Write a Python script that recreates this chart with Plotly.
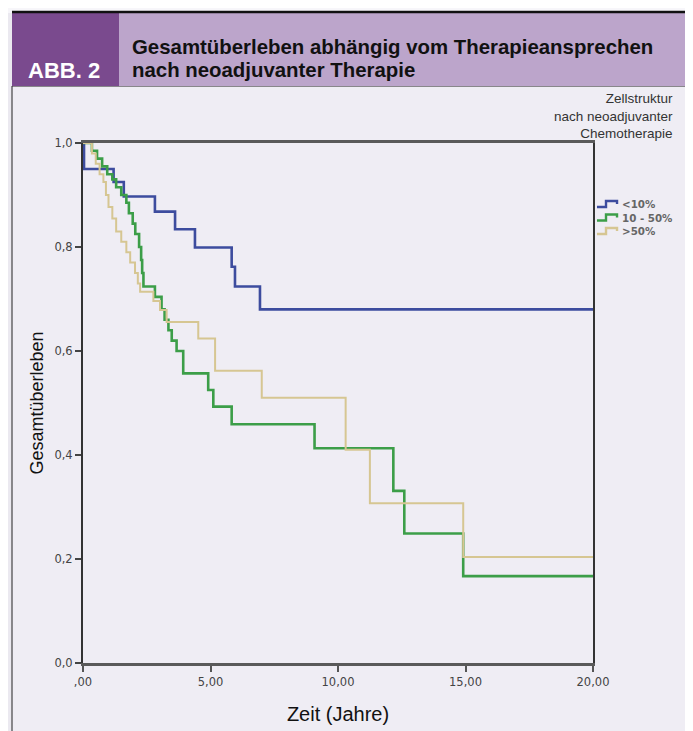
import plotly.graph_objects as go

# ---- data ----
blue_name = "<10%"
blue_times = [0.04, 1.2, 1.6, 2.82, 3.61, 4.39, 5.83, 5.96, 6.94]
blue_surv = [0.95, 0.925, 0.897, 0.868, 0.834, 0.799, 0.762, 0.724, 0.68]

green_name = "10 - 50%"
green_times = [0.35, 0.55, 0.75, 0.95, 1.15, 1.3, 1.5, 1.7, 1.8, 1.95, 2.05, 2.2,
               2.28, 2.32, 2.37, 2.82, 3.08, 3.2, 3.35, 3.48, 3.67, 3.93, 4.91,
               5.11, 5.83, 9.08, 12.17, 12.6, 14.91]
green_surv = [0.985, 0.97, 0.955, 0.94, 0.93, 0.915, 0.90, 0.885, 0.865, 0.845, 0.825,
              0.80, 0.775, 0.75, 0.724, 0.704, 0.68, 0.66, 0.64, 0.62, 0.60, 0.557,
              0.525, 0.493, 0.459, 0.413, 0.331, 0.249, 0.167]

tan_name = ">50%"
tan_times = [0.35, 0.5, 0.65, 0.8, 0.9, 1.0, 1.15, 1.3, 1.5, 1.7, 1.85, 2.04, 2.15,
             2.24, 2.76, 3.02, 3.28, 4.52, 5.18, 7.01, 10.3, 11.25, 14.91]
tan_surv = [0.98, 0.96, 0.94, 0.925, 0.90, 0.877, 0.855, 0.83, 0.81, 0.79, 0.77, 0.75,
            0.73, 0.714, 0.696, 0.679, 0.656, 0.624, 0.562, 0.51, 0.41, 0.307, 0.204]

x_end = 20
y_ticks = [0, 0.2, 0.4, 0.6, 0.8, 1.0]
y_tick_labels = ["0,0", "0,2", "0,4", "0,6", "0,8", "1,0"]
x_ticks = [0, 5, 10, 15, 20]
x_tick_labels = [",00", "5,00", "10,00", "15,00", "20,00"]

legend_title_lines = ["Zellstruktur", "nach neoadjuvanter", "Chemotherapie"]

# ---- layout geometry (page has an 8px body margin) ----
W, H = 685, 723
L, T = 75, 135
PW, PH = 510, 520
R, B = W - L - PW, H - T - PH
X0, Y0 = 83, 663  # plot origin in page pixels


def px(x):
    return (x - X0) / PW


def py(y):
    return (Y0 - y) / PH


def steps(times, surv):
    return [0] + list(times) + [x_end], [1.0] + list(surv) + [surv[-1]]


series = [
    (blue_name, blue_times, blue_surv, "#3d4c9e", 2.6),
    (green_name, green_times, green_surv, "#3c9e48", 2.6),
    (tan_name, tan_times, tan_surv, "#d6c692", 2.0),
]

fig = go.Figure()
for name, t, s, col, w in series:
    xs, ys = steps(t, s)
    fig.add_trace(go.Scatter(x=xs, y=ys, mode="lines", name=name,
                             line=dict(color=col, width=w, shape="hv"),
                             hoverinfo="skip", showlegend=False))

shapes = [
    dict(type="rect", xref="paper", yref="paper", x0=px(0), x1=px(12), y0=py(13), y1=py(740),
         fillcolor="#ebe9f0", line=dict(width=0), layer="below"),
    dict(type="rect", xref="paper", yref="paper", x0=px(12), x1=px(688), y0=py(86), y1=py(740),
         fillcolor="#efedf4", line=dict(color="#222", width=1), layer="below"),
    dict(type="rect", xref="paper", yref="paper", x0=px(12), x1=px(119), y0=py(13), y1=py(86),
         fillcolor="#7a4a8e", line=dict(width=0), layer="below"),
    dict(type="rect", xref="paper", yref="paper", x0=px(119), x1=px(693), y0=py(13), y1=py(86),
         fillcolor="#bca5cb", line=dict(width=0), layer="below"),
    dict(type="line", xref="paper", yref="paper", x0=px(12), x1=px(693), y0=py(12), y1=py(12),
         line=dict(color="#111", width=2.5)),
]

annotations = [
    dict(text="<b>ABB. 2</b>", xref="paper", yref="paper", x=px(26), y=py(70),
         xanchor="left", yanchor="middle", showarrow=False,
         font=dict(family="Liberation Sans", size=22, color="white")),
    dict(text="<b>Gesamtüberleben abhängig vom Therapieansprechen</b>",
         xref="paper", yref="paper", x=px(130), y=py(47), xanchor="left", yanchor="middle",
         showarrow=False, font=dict(family="Liberation Sans", size=20.4, color="#111")),
    dict(text="<b>nach neoadjuvanter Therapie</b>",
         xref="paper", yref="paper", x=px(130), y=py(70), xanchor="left", yanchor="middle",
         showarrow=False, font=dict(family="Liberation Sans", size=20.4, color="#111")),
    dict(text="<br>".join(legend_title_lines), xref="paper", yref="paper", x=px(675), y=py(116),
         xanchor="right", yanchor="middle", align="right", showarrow=False,
         font=dict(family="Liberation Sans", size=13.5, color="#333")),
]

# legend entries (step-shaped glyph + label)
for i, (name, t, s, col, w) in enumerate(series):
    yc = 204 + 13.5 * i
    shapes.append(dict(type="path", xref="paper", yref="paper",
                       path="M{:.4f},{:.4f} H{:.4f} V{:.4f} H{:.4f} V{:.4f}".format(
                           px(597), py(yc + 3), px(606), py(yc - 3), px(617), py(yc)),
                       line=dict(color=col, width=2.4)))
    annotations.append(dict(text="<b>" + name + "</b>", xref="paper", yref="paper",
                            x=px(620), y=py(yc), xanchor="left", yanchor="middle",
                            showarrow=False,
                            font=dict(family="DejaVu Sans", size=10.3, color="#666")))

fig.update_layout(
    width=W, height=H, autosize=False,
    margin=dict(l=L, r=R, t=T, b=B),
    paper_bgcolor="#f7f6fa", plot_bgcolor="#e3e1e9",
    shapes=shapes, annotations=annotations,
    showlegend=False,
    xaxis=dict(range=[0, x_end], tickvals=x_ticks, ticktext=x_tick_labels, showgrid=False,
               zeroline=False, showline=True, linecolor="#5a5a5a", linewidth=2.5, mirror=True,
               ticks="outside", ticklen=6, tickwidth=2, tickcolor="#555", automargin=False,
               tickfont=dict(family="DejaVu Sans", size=11.5, color="#444"),
               title=dict(text="Zeit (Jahre)", standoff=20,
                          font=dict(family="Liberation Sans", size=20, color="#111"))),
    yaxis=dict(range=[0, 1], tickvals=y_ticks, ticktext=y_tick_labels, showgrid=False,
               zeroline=False, showline=True, linecolor="#333", linewidth=2, mirror=True,
               ticks="outside", ticklen=6, tickwidth=2, tickcolor="#444", automargin=False,
               tickfont=dict(family="DejaVu Sans", size=11.5, color="#444"),
               title=dict(text="Gesamtüberleben", standoff=6,
                          font=dict(family="Liberation Sans", size=18, color="#111"))),
)

fig.write_html("out.html")
